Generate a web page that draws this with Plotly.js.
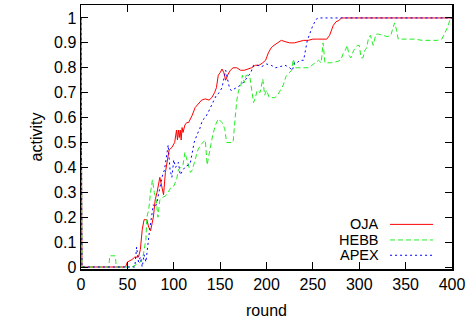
<!DOCTYPE html>
<html>
<head>
<meta charset="utf-8">
<script src="https://cdn.plot.ly/plotly-3.0.1.min.js"></script>
<style>html,body{margin:0;padding:0;background:#fff;}#chart{width:467px;height:320px;}</style>
</head>
<body>
<div id="chart"></div>
<script>
// ---- data ----
const seriesNames = ["OJA", "HEBB", "APEX"];

const ojaRound = [0,1,48,50,55,58,62,64,66,68,71,73,75,78,80,82,85,87,89,91,93,95,98,101,103,104,105,106,107,108,109,110,112,114,116,120,123,127,130,134,138,141,144,146,148,150,152,154,156,158,161,164,168,172,176,180,184,188,192,196,199,202,205,208,212,216,220,225,230,235,240,245,250,255,260,265,268,270,272,275,278,281,285,400];
const ojaActivity = [1,0,0,0.02,0.03,0.04,0.04,0.07,0.15,0.19,0.19,0.16,0.145,0.2,0.27,0.3,0.36,0.33,0.29,0.38,0.42,0.47,0.48,0.5,0.55,0.51,0.55,0.52,0.55,0.51,0.56,0.54,0.57,0.58,0.58,0.61,0.64,0.66,0.67,0.675,0.67,0.68,0.7,0.72,0.77,0.78,0.795,0.78,0.75,0.77,0.79,0.8,0.8,0.79,0.79,0.795,0.8,0.81,0.81,0.82,0.83,0.86,0.88,0.89,0.9,0.91,0.905,0.9,0.9,0.905,0.91,0.91,0.915,0.915,0.915,0.915,0.93,0.95,0.97,0.985,0.99,1,1,1];

const hebbRound = [0,1,30,31,37,38,55,60,64,67,69,70,71,73,75,77,79,81,83,85,88,91,94,97,100,103,105,108,110,112,114,116,118,120,123,126,129,132,134,136,138,140,142,145,148,152,155,157,160,164,166,168,170,172,174,176,178,180,182,184,186,188,190,193,196,198,200,203,206,209,212,215,218,221,224,227,229,231,234,238,242,246,249,252,256,259,261,263,265,270,276,280,283,285,287,289,291,294,296,298,300,302,304,306,308,310,312,315,318,321,326,330,334,336,338,340,342,346,352,360,368,376,384,389,392,395,398,400];
const hebbActivity = [1,0,0,0.045,0.045,0,0,0.01,0.02,0.045,0.08,0.11,0.2,0.23,0.3,0.35,0.3,0.27,0.2,0.27,0.28,0.285,0.3,0.32,0.325,0.35,0.39,0.4,0.41,0.46,0.43,0.4,0.38,0.39,0.43,0.47,0.49,0.5,0.51,0.41,0.45,0.48,0.53,0.57,0.595,0.58,0.555,0.5,0.5,0.5,0.59,0.67,0.71,0.72,0.77,0.74,0.77,0.77,0.765,0.72,0.66,0.68,0.71,0.7,0.755,0.69,0.71,0.68,0.68,0.68,0.69,0.71,0.73,0.765,0.78,0.79,0.835,0.8,0.8,0.8,0.8,0.8,0.81,0.82,0.83,0.82,0.9,0.82,0.82,0.82,0.825,0.83,0.86,0.87,0.89,0.85,0.84,0.87,0.88,0.89,0.89,0.84,0.84,0.87,0.88,0.92,0.93,0.89,0.935,0.935,0.93,0.925,0.93,0.96,0.98,0.955,0.915,0.915,0.915,0.915,0.91,0.91,0.91,0.915,0.935,0.96,0.995,1];

const apexRound = [0,1,58,60,62,64,66,68,70,72,74,76,78,80,82,84,86,88,90,92,94,96,98,100,102,105,107,110,113,116,118,120,122,125,128,131,134,137,140,143,146,149,152,154,156,158,160,162,165,168,172,176,180,183,186,190,195,200,205,210,215,220,225,228,230,233,236,240,242,244,246,248,250,253,255,400];
const apexActivity = [1,0,0,0.08,0.02,0.04,0,0.05,0.02,0.1,0.15,0.2,0.25,0.24,0.26,0.3,0.34,0.37,0.39,0.45,0.49,0.39,0.36,0.43,0.4,0.42,0.37,0.39,0.405,0.41,0.42,0.46,0.5,0.53,0.555,0.59,0.6,0.62,0.647,0.667,0.69,0.7,0.72,0.76,0.79,0.755,0.72,0.708,0.715,0.72,0.73,0.745,0.765,0.78,0.81,0.81,0.805,0.815,0.81,0.8,0.805,0.81,0.8,0.79,0.82,0.82,0.83,0.83,0.87,0.91,0.93,0.95,0.97,0.99,1,1];

const xTicks = [0,50,100,150,200,250,300,350,400];
const yTicks = [0,0.1,0.2,0.3,0.4,0.5,0.6,0.7,0.8,0.9,1];

// ---- styles ----
const colors = ["#ff0000", "#22ee22", "#0000ff"];
const dashes = ["solid", "5px,3px", "2px,3px"];
const FONT = "Liberation Sans, Arial, sans-serif";

const xs = [ojaRound, hebbRound, apexRound];
const ys = [ojaActivity, hebbActivity, apexActivity];

const traces = seriesNames.map((n, i) => ({
  type: "scatter", mode: "lines", name: n,
  x: xs[i], y: ys[i],
  line: {color: colors[i], width: 1, dash: dashes[i], shape: "linear"},
  showlegend: false, hoverinfo: "skip"
}));

// gnuplot-style key: right-aligned text with sample line to the right
const keyY = [0.169, 0.110, 0.052];
const annotations = seriesNames.map((n, i) => ({
  xref: "paper", yref: "paper", x: 0.806, y: keyY[i],
  xanchor: "right", yanchor: "middle", text: n, showarrow: false,
  borderpad: 0,
  font: {family: FONT, size: 14.5, color: "#000"}
}));
const shapes = seriesNames.map((n, i) => ({
  type: "line", xref: "paper", yref: "paper",
  x0: 0.833, x1: 0.949, y0: keyY[i], y1: keyY[i],
  line: {color: colors[i], width: 1, dash: dashes[i]}
}));

const axisCommon = {
  showline: true, linecolor: "#000", linewidth: 1.5, mirror: "ticks",
  ticks: "inside", ticklen: 7, tickwidth: 1, tickcolor: "#000",
  showgrid: false, zeroline: false,
  tickfont: {family: FONT, size: 16, color: "#000"}
};

const layout = {
  width: 467, height: 320,
  margin: {l: 81, r: 15, t: 5, b: 51},
  paper_bgcolor: "#fff", plot_bgcolor: "#fff",
  font: {family: FONT, size: 16, color: "#000"},
  xaxis: Object.assign({}, axisCommon, {
    range: [0, 400], tickvals: xTicks, ticktext: xTicks.map(String),
    title: {text: "round", font: {family: FONT, size: 16, color: "#000"}, standoff: 13}
  }),
  yaxis: Object.assign({}, axisCommon, {
    range: [-0.008, 1.052], tickvals: yTicks, ticktext: yTicks.map(String),
    title: {text: "activity", font: {family: FONT, size: 16, color: "#000"}, standoff: 7}
  }),
  annotations: annotations,
  shapes: shapes,
  showlegend: false
};

Plotly.newPlot("chart", traces, layout, {displayModeBar: false, staticPlot: true});
</script>
</body>
</html>
